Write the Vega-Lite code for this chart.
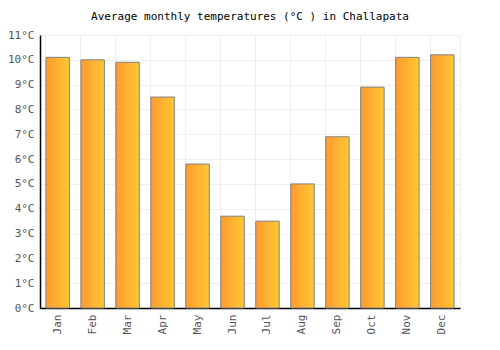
{
  "$schema": "https://vega.github.io/schema/vega-lite/v6.json",
  "width": 420,
  "height": 273,
  "autosize": {"type": "none"},
  "padding": {"left": 40, "top": 35, "right": 40, "bottom": 42},
  "background": "white",
  "title": {
    "text": "Average monthly temperatures (°C ) in Challapata",
    "font": "DejaVu Sans Mono",
    "fontSize": 11,
    "fontWeight": "normal",
    "color": "#000000",
    "anchor": "middle",
    "offset": 7
  },
  "config": {
    "view": {"stroke": "#eeeeee", "strokeWidth": 1},
    "axis": {
      "labelFont": "DejaVu Sans Mono",
      "labelFontSize": 11,
      "labelColor": "#555555",
      "gridColor": "#eeeeee",
      "gridWidth": 1,
      "domainColor": "#000000",
      "domainWidth": 1.5,
      "ticks": false,
      "title": null
    }
  },
  "data": {
    "values": [
      {"month": "Jan", "temp": 10.1},
      {"month": "Feb", "temp": 10.0},
      {"month": "Mar", "temp": 9.9},
      {"month": "Apr", "temp": 8.5},
      {"month": "May", "temp": 5.8},
      {"month": "Jun", "temp": 3.7},
      {"month": "Jul", "temp": 3.5},
      {"month": "Aug", "temp": 5.0},
      {"month": "Sep", "temp": 6.9},
      {"month": "Oct", "temp": 8.9},
      {"month": "Nov", "temp": 10.1},
      {"month": "Dec", "temp": 10.2}
    ]
  },
  "mark": {
    "type": "bar",
    "stroke": "#808080",
    "strokeWidth": 1,
    "color": {
      "gradient": "linear",
      "x1": 0, "x2": 1, "y1": 0, "y2": 0,
      "stops": [
        {"offset": 0, "color": "#ff9a30"},
        {"offset": 1, "color": "#ffc833"}
      ]
    }
  },
  "encoding": {
    "x": {
      "field": "month",
      "type": "nominal",
      "sort": null,
      "scale": {"paddingInner": 0.33, "paddingOuter": 0.17},
      "axis": {
        "labelAngle": -90,
        "labelPadding": 6,
        "grid": true,
        "bandPosition": 0,
        "labelBaseline": "middle",
        "labelAlign": "right"
      }
    },
    "y": {
      "field": "temp",
      "type": "quantitative",
      "scale": {"domain": [0, 11], "nice": false},
      "axis": {
        "values": [0, 1, 2, 3, 4, 5, 6, 7, 8, 9, 10, 11],
        "labelExpr": "datum.value + '°C'",
        "labelPadding": 6,
        "grid": true
      }
    }
  }
}
